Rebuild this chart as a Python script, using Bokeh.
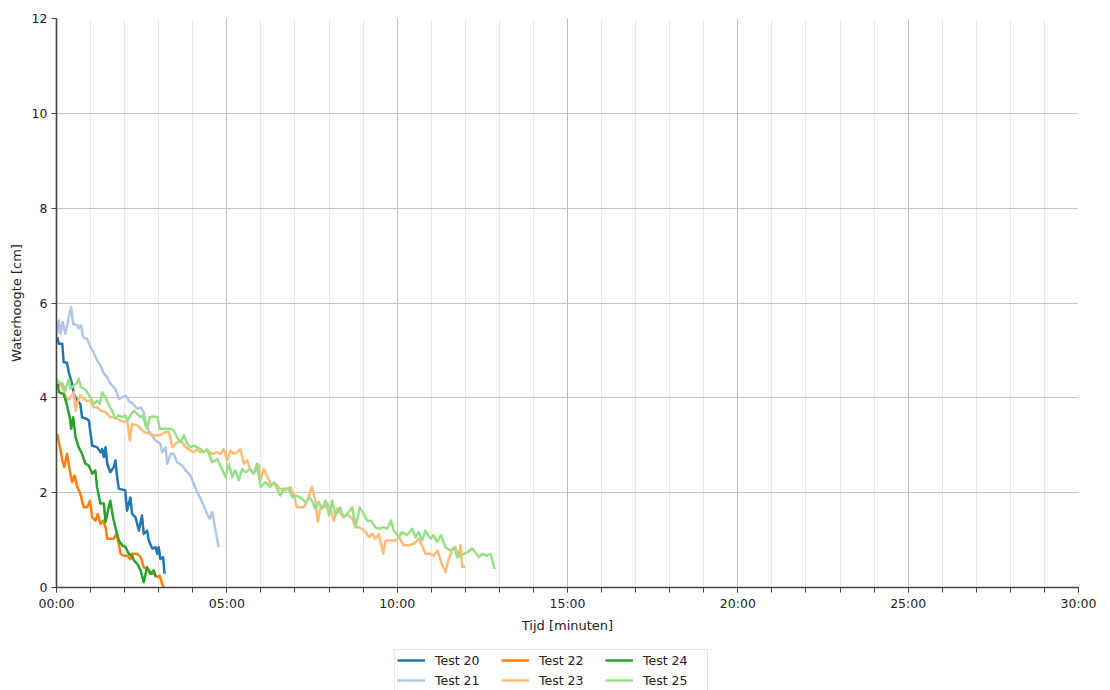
from bokeh.plotting import figure
from bokeh.layouts import column
from bokeh.models import Range1d, FixedTicker, CustomJSTickFormatter, Legend, LegendItem
from bokeh.embed import file_html
from bokeh.resources import INLINE

# Drain tests: elapsed time [minutes] and water height [cm]
t20 = [0.02, 0.07, 0.17, 0.21, 0.31, 0.36, 0.46, 0.51, 0.61, 0.70, 0.75, 0.88, 0.95, 1.00, 1.05,
       1.19, 1.29, 1.34, 1.39, 1.44, 1.49, 1.58, 1.68, 1.73, 1.78, 1.83, 2.02, 2.07, 2.17, 2.22,
       2.32, 2.42, 2.51, 2.56, 2.66, 2.71, 2.81, 2.91, 2.96, 3.00, 3.05, 3.13, 3.17]
h20 = [5.28, 5.14, 5.14, 4.75, 4.74, 4.54, 4.29, 4.08, 3.94, 3.87, 3.59, 3.56, 3.52, 3.24, 2.99,
       2.96, 2.85, 2.92, 2.75, 2.96, 2.61, 2.43, 2.54, 2.68, 2.33, 2.08, 2.05, 1.62, 1.90, 1.55,
       1.48, 1.20, 1.52, 1.13, 1.20, 0.99, 0.82, 0.85, 0.71, 0.85, 0.60, 0.64, 0.29]

t21 = [0.02, 0.07, 0.12, 0.18, 0.26, 0.36, 0.43, 0.49, 0.61, 0.65, 0.72, 0.78, 0.90, 1.00, 1.09,
       1.19, 1.29, 1.39, 1.49, 1.58, 1.73, 1.83, 1.93, 2.03, 2.12, 2.25, 2.37, 2.47, 2.56, 2.61,
       2.66, 2.76, 2.91, 3.05, 3.10, 3.20, 3.25, 3.35, 3.44, 3.54, 3.69, 3.79, 3.93, 4.03, 4.13,
       4.23, 4.32, 4.42, 4.50, 4.57, 4.67, 4.76]
h21 = [5.35, 5.63, 5.35, 5.60, 5.35, 5.70, 5.91, 5.56, 5.53, 5.46, 5.53, 5.28, 5.24, 5.07, 4.96,
       4.79, 4.68, 4.51, 4.43, 4.30, 4.19, 3.98, 4.01, 4.05, 3.94, 3.87, 3.77, 3.80, 3.70, 3.52,
       3.38, 3.24, 3.10, 3.03, 2.85, 2.96, 2.61, 2.82, 2.82, 2.64, 2.57, 2.47, 2.36, 2.19, 2.01,
       1.87, 1.73, 1.55, 1.45, 1.59, 1.20, 0.85]

t22 = [0.02, 0.12, 0.17, 0.23, 0.31, 0.39, 0.46, 0.53, 0.61, 0.70, 0.80, 0.90, 0.98, 1.05, 1.14,
       1.21, 1.29, 1.37, 1.44, 1.49, 1.68, 1.76, 1.83, 1.88, 1.98, 2.08, 2.17, 2.22, 2.37, 2.47,
       2.56, 2.71, 2.76, 2.86, 2.96, 3.03, 3.10, 3.15]
h22 = [3.24, 2.89, 2.68, 2.54, 2.82, 2.47, 2.22, 2.36, 2.12, 1.98, 1.69, 1.69, 1.83, 1.48, 1.41,
       1.55, 1.34, 1.41, 1.27, 1.03, 1.03, 1.13, 0.92, 0.71, 0.67, 0.67, 0.60, 0.71, 0.71, 0.64,
       0.43, 0.36, 0.29, 0.29, 0.22, 0.25, 0.08, 0.00]

t23 = [0.02, 0.12, 0.21, 0.31, 0.41, 0.51, 0.56, 0.63, 0.70, 0.80, 0.88, 1.00, 1.09, 1.19, 1.29,
       1.44, 1.58, 1.73, 1.88, 2.00, 2.08, 2.15, 2.22, 2.37, 2.56, 2.76, 2.86, 3.05, 3.20, 3.30,
       3.40, 3.49, 3.64, 3.79, 3.93, 4.03, 4.13, 4.23, 4.42, 4.57, 4.72, 4.81, 4.91, 5.01, 5.11,
       5.20, 5.30, 5.40, 5.50, 5.60, 5.69, 5.79, 5.94, 5.99, 6.08, 6.18, 6.28, 6.43, 6.57, 6.72,
       6.87, 6.97, 7.06, 7.26, 7.36, 7.50, 7.60, 7.67, 7.75, 7.85, 7.95, 8.04, 8.14, 8.24, 8.34,
       8.43, 8.53, 8.68, 8.78, 8.88, 8.97, 9.07, 9.17, 9.27, 9.36, 9.46, 9.59, 9.66, 9.80, 9.95,
       10.05, 10.19, 10.34, 10.49, 10.63, 10.73, 10.83, 10.98, 11.07, 11.19, 11.29, 11.42, 11.51,
       11.61, 11.71, 11.81, 11.86, 11.91, 12.00]
h23 = [4.26, 4.30, 4.15, 3.94, 4.01, 4.12, 3.73, 3.94, 4.05, 3.98, 3.94, 3.94, 3.80, 3.80, 3.73,
       3.70, 3.59, 3.59, 3.52, 3.49, 3.52, 3.10, 3.45, 3.42, 3.28, 3.24, 3.21, 3.21, 3.28, 3.28,
       2.96, 3.03, 3.10, 2.96, 2.89, 2.85, 2.92, 2.85, 2.89, 2.82, 2.85, 2.82, 2.92, 2.68, 2.89,
       2.82, 2.85, 2.92, 2.61, 2.68, 2.47, 2.40, 2.57, 2.26, 2.50, 2.36, 2.19, 2.19, 2.08, 2.05,
       2.12, 1.94, 1.69, 1.69, 1.83, 2.12, 1.83, 1.38, 1.69, 1.69, 1.77, 1.66, 1.41, 1.66, 1.55,
       1.48, 1.55, 1.45, 1.27, 1.27, 1.24, 1.17, 1.06, 1.13, 1.03, 1.13, 0.71, 0.99, 0.99, 0.99,
       1.06, 0.89, 0.89, 0.92, 1.03, 0.89, 0.71, 0.71, 0.67, 0.78, 0.53, 0.32, 0.60,
       0.78, 0.85, 0.64, 0.89, 0.43, 0.43]

t24 = [0.04, 0.07, 0.21, 0.31, 0.39, 0.43, 0.49, 0.56, 0.65, 0.75, 0.85, 0.95, 1.05, 1.14, 1.19,
       1.29, 1.39, 1.44, 1.51, 1.58, 1.66, 1.73, 1.83, 1.93, 2.03, 2.12, 2.22, 2.27, 2.37, 2.47,
       2.56, 2.66, 2.76, 2.86, 2.91]
h24 = [4.30, 4.12, 4.08, 3.84, 3.59, 3.35, 3.59, 3.17, 2.96, 2.82, 2.61, 2.57, 2.40, 2.47, 2.12,
       1.77, 1.77, 1.38, 1.62, 1.83, 1.48, 1.27, 0.99, 0.89, 0.85, 0.71, 0.67, 0.57, 0.50, 0.36,
       0.11, 0.43, 0.29, 0.36, 0.22]

t25 = [0.00, 0.07, 0.17, 0.26, 0.36, 0.41, 0.51, 0.59, 0.65, 0.72, 0.82, 0.90, 1.00, 1.09, 1.19,
       1.27, 1.34, 1.44, 1.54, 1.63, 1.73, 1.83, 1.93, 2.03, 2.08, 2.17, 2.27, 2.37, 2.47, 2.54,
       2.61, 2.66, 2.74, 2.86, 2.96, 3.03, 3.20, 3.35, 3.44, 3.54, 3.64, 3.74, 3.84, 3.93, 4.03,
       4.13, 4.23, 4.32, 4.42, 4.57, 4.72, 4.81, 4.96, 5.06, 5.16, 5.25, 5.35, 5.45, 5.55, 5.69,
       5.79, 5.89, 5.99, 6.13, 6.28, 6.38, 6.48, 6.57, 6.67, 6.82, 6.92, 7.01, 7.16, 7.31, 7.41,
       7.50, 7.60, 7.70, 7.80, 7.90, 8.00, 8.09, 8.19, 8.32, 8.43, 8.53, 8.68, 8.78, 8.90, 9.02,
       9.12, 9.23, 9.36, 9.46, 9.61, 9.71, 9.82, 9.90, 10.05, 10.15, 10.29, 10.44, 10.54, 10.63,
       10.73, 10.83, 10.98, 11.07, 11.17, 11.29, 11.42, 11.56, 11.68, 11.76, 11.84, 11.95, 12.05,
       12.20, 12.30, 12.39, 12.49, 12.64, 12.74, 12.86]
h25 = [4.40, 4.33, 4.30, 4.15, 4.40, 4.19, 4.26, 4.30, 4.40, 4.22, 4.19, 4.12, 4.01, 3.87, 3.94,
       3.87, 4.12, 4.01, 3.84, 3.73, 3.56, 3.63, 3.59, 3.63, 3.52, 3.63, 3.73, 3.66, 3.59, 3.63,
       3.42, 3.35, 3.59, 3.61, 3.59, 3.35, 3.35, 3.35, 3.31, 3.17, 3.06, 3.21, 3.03, 2.96, 2.99,
       2.96, 2.92, 2.85, 2.92, 2.64, 2.71, 2.57, 2.33, 2.61, 2.33, 2.47, 2.26, 2.50, 2.43, 2.50,
       2.40, 2.61, 2.12, 2.22, 2.12, 2.22, 2.08, 1.94, 2.08, 2.08, 1.90, 1.94, 1.90, 1.80, 1.90,
       1.83, 1.66, 1.80, 1.66, 1.83, 1.52, 1.83, 1.52, 1.69, 1.48, 1.55, 1.69, 1.27, 1.69, 1.55,
       1.41, 1.41, 1.27, 1.24, 1.27, 1.24, 1.41, 1.20, 1.06, 1.17, 1.10, 1.24, 1.06, 1.17,
       0.99, 1.20, 1.03, 1.10, 0.96, 1.10, 0.85, 0.78, 0.85, 0.64, 0.67, 0.71, 0.74,
       0.82, 0.74, 0.64, 0.71, 0.67, 0.71, 0.39]

series = [
    ("Test 20", t20, h20, "#1f77b4"),
    ("Test 21", t21, h21, "#aec7e8"),
    ("Test 22", t22, h22, "#ff7f0e"),
    ("Test 23", t23, h23, "#ffbb78"),
    ("Test 24", t24, h24, "#2ca02c"),
    ("Test 25", t25, h25, "#98df8a"),
]

FONT = "DejaVu Sans"
LINE_W = 2.5

p = figure(width=1110, height=648, output_backend="svg", toolbar_location=None, title=None,
           x_range=Range1d(0, 30), y_range=Range1d(0, 12),
           min_border_left=56, min_border_top=18, min_border_right=32, min_border_bottom=61)
p.outline_line_color = None
p.background_fill_color = "white"

# x axis: minutes shown as mm:ss, major every 5 min, minor every minute
p.xaxis.ticker = FixedTicker(ticks=list(range(0, 31, 5)), minor_ticks=list(range(0, 31)))
p.xaxis.formatter = CustomJSTickFormatter(code="""
    const total = Math.round(tick * 60);
    const m = Math.floor(total / 60), s = total % 60;
    return (m < 10 ? "0" : "") + m + ":" + (s < 10 ? "0" : "") + s;
""")
p.yaxis.ticker = FixedTicker(ticks=list(range(0, 13, 2)), minor_ticks=[])

p.xaxis.axis_label = "Tijd [minuten]"
p.yaxis.axis_label = "Waterhoogte [cm]"

for ax in (p.xaxis[0], p.yaxis[0]):
    ax.axis_line_color = "#444444"
    ax.axis_line_width = 1.6
    ax.major_tick_line_color = "#444444"
    ax.minor_tick_line_color = "#444444"
    ax.major_tick_out = 5
    ax.major_tick_in = 0
    ax.minor_tick_out = 5
    ax.minor_tick_in = 0
    ax.major_label_text_font = FONT
    ax.major_label_text_font_size = "12.5px"
    ax.major_label_text_color = "#222222"
    ax.axis_label_text_font = FONT
    ax.axis_label_text_font_size = "13px"
    ax.axis_label_text_font_style = "normal"
    ax.axis_label_text_color = "#222222"

p.xaxis.major_label_standoff = 3
p.xaxis.axis_label_standoff = 4
p.yaxis.major_label_standoff = 4
p.yaxis.axis_label_standoff = 5

p.xgrid.ticker = p.xaxis.ticker
p.xgrid.grid_line_color = "#bdbdbd"
p.xgrid.minor_grid_line_color = "#e6e6e6"
p.ygrid.grid_line_color = "#c4c4c4"

for label, t, h, color in series:
    p.line(t, h, line_color=color, line_width=LINE_W, line_join="round")

# legend strip under the chart; its key lines sit outside the strip's own range
q = figure(width=1110, height=42, output_backend="svg", toolbar_location=None, title=None,
           x_range=Range1d(0, 1), y_range=Range1d(0, 1),
           x_axis_type=None, y_axis_type=None, min_border=0)
q.outline_line_color = None
q.grid.visible = False

items = []
for label, t, h, color in series:
    key = q.line([-2, -1], [-2, -2], line_color=color, line_width=LINE_W)
    items.append(LegendItem(label=label, renderers=[key]))

legend = Legend(items=items, location=(338, -1), orientation="vertical", nrows=2,
                glyph_width=28, glyph_height=16, label_height=16, label_width=62,
                label_standoff=10, spacing=4, padding=2, margin=0,
                label_text_font=FONT, label_text_font_size="12.5px", label_text_color="#222222",
                border_line_color="#cccccc", border_line_width=1,
                background_fill_color="white", background_fill_alpha=0.8)
q.add_layout(legend)

layout = column(p, q, spacing=0)
open("out.html", "w").write(file_html(layout, INLINE))
